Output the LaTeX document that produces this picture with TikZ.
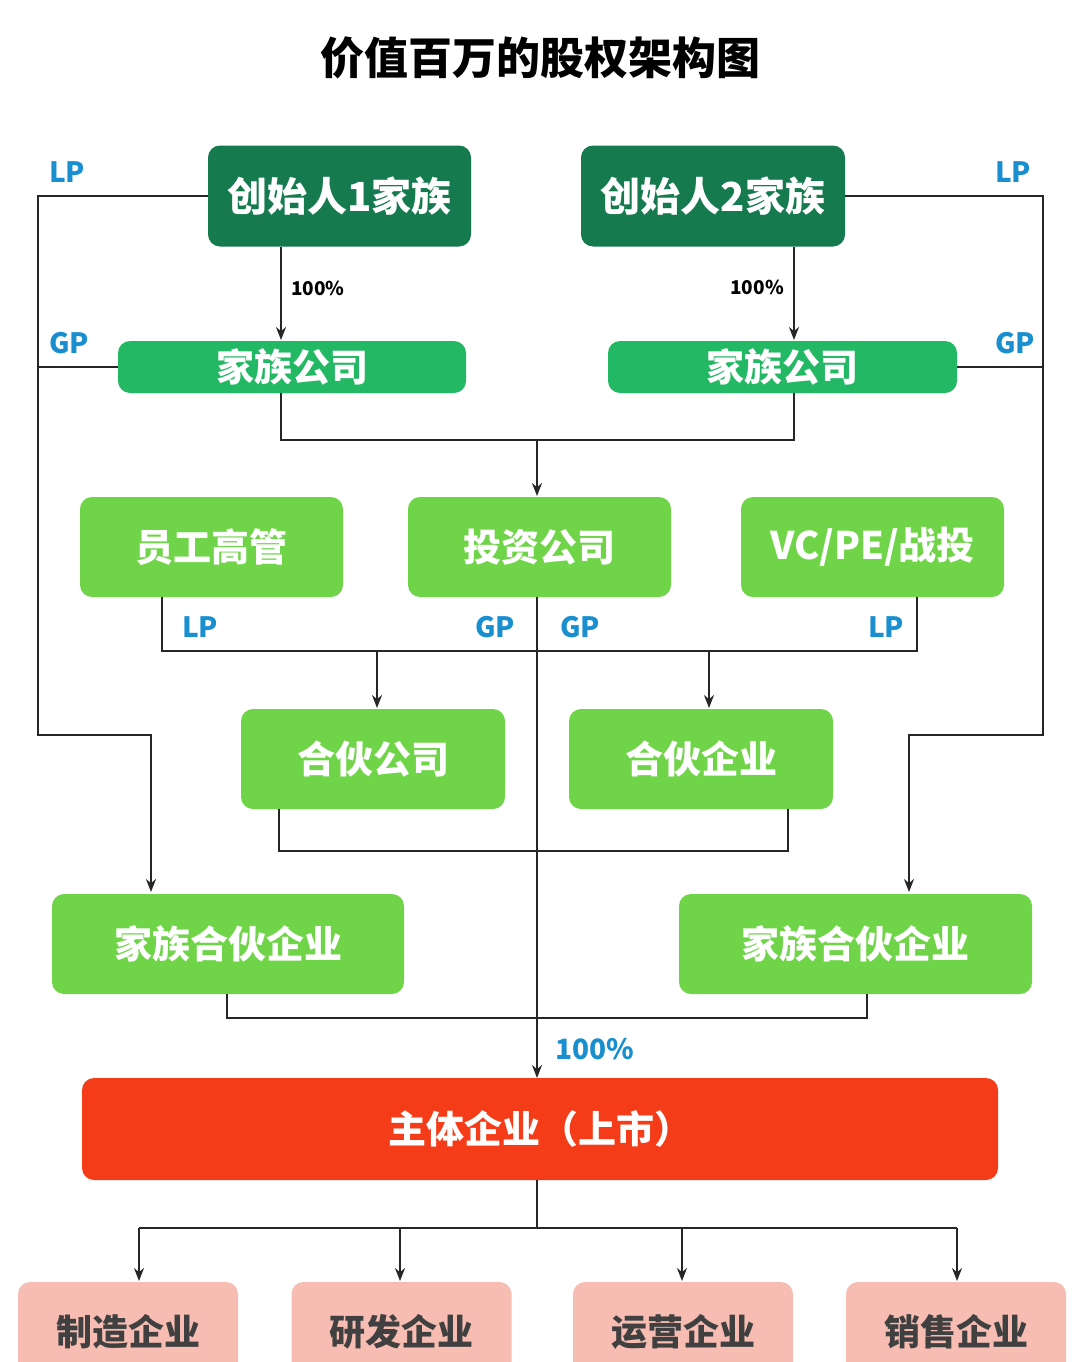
\documentclass[tikz,border=0pt]{standalone}
\usepackage{fontspec}
\setmainfont{Noto Sans CJK SC}
\usetikzlibrary{arrows.meta}
\definecolor{dg}{HTML}{167A4F}
\definecolor{mg}{HTML}{22B864}
\definecolor{lg}{HTML}{6FD448}
\definecolor{rd}{HTML}{F53C18}
\definecolor{pk}{HTML}{F7BDB3}
\definecolor{bl}{HTML}{1A8FD0}
\begin{document}
\begin{tikzpicture}[x=1pt,y=-1pt,
 box/.style={draw=none,rounded corners=12pt,inner sep=0pt,font=\bfseries},
 ln/.style={line width=1.6pt,black!85},
 ar/.style={ln,-{Stealth[length=13pt,width=10pt]}},
 lab/.style={text=bl,font=\bfseries\fontsize{28}{30}\selectfont},
 pct/.style={font=\bfseries\fontsize{19}{21}\selectfont}]
\useasboundingbox (0,0) rectangle (1080,1362);
\clip (0,0) rectangle (1080,1362);
\fill[white] (0,0) rectangle (1080,1362);
\node[font=\bfseries\fontsize{44}{48}\selectfont] (title) at (540,58) {价值百万的股权架构图};
\node[box,fill=dg,text=white,minimum width=263pt,minimum height=101pt,font=\bfseries\fontsize{40}{44}\selectfont] (f1) at (339.5,196) {创始人1家族};
\node[box,fill=dg,text=white,minimum width=264pt,minimum height=101pt,font=\bfseries\fontsize{40}{44}\selectfont] (f2) at (713,196) {创始人2家族};
\node[box,fill=mg,text=white,minimum width=348pt,minimum height=52pt,font=\bfseries\fontsize{38}{42}\selectfont] (c1) at (292,367) {家族公司};
\node[box,fill=mg,text=white,minimum width=349pt,minimum height=52pt,font=\bfseries\fontsize{38}{42}\selectfont] (c2) at (782.5,367) {家族公司};
\tikzset{gb/.style={box,fill=lg,text=white,minimum height=100pt,font=\bfseries\fontsize{38}{42}\selectfont}}
\node[gb,minimum width=263pt] (emp) at (211.5,547) {员工高管};
\node[gb,minimum width=263pt] (inv) at (539.5,547) {投资公司};
\node[gb,minimum width=263pt] (vc) at (872.5,547) {VC/PE/战投};
\node[gb,minimum width=264pt] (h1) at (373,759) {合伙公司};
\node[gb,minimum width=264pt] (h2) at (701,759) {合伙企业};
\node[gb,minimum width=352pt] (p1) at (228,944) {家族合伙企业};
\node[gb,minimum width=353pt] (p2) at (855.5,944) {家族合伙企业};
\node[box,fill=rd,text=white,minimum width=916pt,minimum height=102pt,font=\bfseries\fontsize{38}{42}\selectfont] (main) at (540,1129) {主体企业（上市）};
\tikzset{pb/.style={box,fill=pk,text=black!75,minimum width=220pt,minimum height=100pt,font=\bfseries\fontsize{36}{40}\selectfont}}
\node[pb] (s1) at (128,1332) {制造企业};
\node[pb] (s2) at (401.5,1332) {研发企业};
\node[pb] (s3) at (683,1332) {运营企业};
\node[pb] (s4) at (956,1332) {销售企业};
\coordinate (jc) at (537,440);
\coordinate (je) at (377,651);
\coordinate (jv) at (709,651);
\coordinate (jm) at (537,1228);
\draw[ar] (f1.south -| 281,0) -- (281,340);
\draw[ar] (f2.south -| 794,0) -- (794,340);
\node[pct] (p100a) at (318,288) {100\%};
\node[pct] (p100b) at (757,287) {100\%};
\draw[ar] (f1.west) -- (38,196) -- (38,735) -- (151,735) -- (151,892);
\draw[ar] (f2.east) -- (1043,196) -- (1043,735) -- (909,735) -- (909,892);
\draw[ln] (c1.west) -- (38,367);
\draw[ln] (c2.east) -- (1043,367);
\node[lab] (lp1) at (67,172) {LP};
\node[lab] (gp1) at (69,343) {GP};
\node[lab] (lp2) at (1013,172) {LP};
\node[lab] (gp2) at (1015,343) {GP};
\draw[ln] (281,393) -- (281,440) -- (794,440) -- (794,393);
\draw[ar] (jc) -- (537,496);
\draw[ln] (162,597) -- (162,651) -- (917,651) -- (917,597);
\draw[ar] (537,597) -- (537,1078);
\node[lab] (lp3) at (200,627) {LP};
\node[lab] (gp3) at (495,627) {GP};
\node[lab] (gp4) at (580,627) {GP};
\node[lab] (lp4) at (886,627) {LP};
\draw[ar] (je) -- (377,708);
\draw[ar] (jv) -- (709,708);
\draw[ln] (279,809) -- (279,851) -- (788,851) -- (788,809);
\draw[ln] (227,994) -- (227,1018) -- (867,1018) -- (867,994);
\node[lab] (p100c) at (595,1049) {100\%};
\draw[ln] (main.south -| 537,0) -- (jm);
\draw[ln] (139,1228) -- (957,1228);
\foreach \x in {139,400,682,957} \draw[ar] (\x,1228) -- (\x,1281);
\end{tikzpicture}
\end{document}
